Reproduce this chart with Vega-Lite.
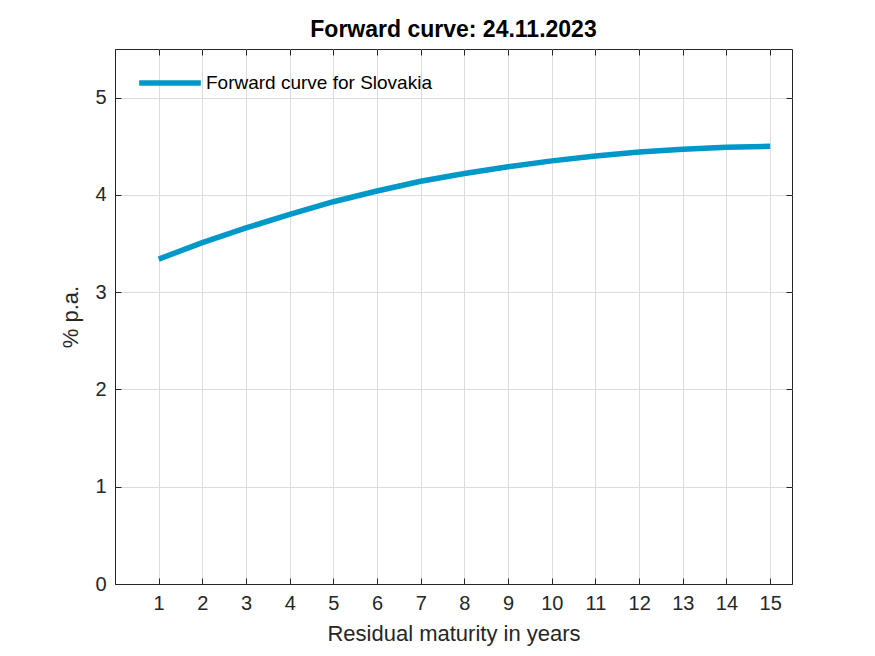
{
  "$schema": "https://vega.github.io/schema/vega-lite/v6.json",
  "width": 677,
  "height": 535,
  "padding": {"left": 115, "top": 49, "right": 83, "bottom": 72},
  "autosize": {"type": "none"},
  "background": "white",
  "config": {
    "font": "Liberation Sans",
    "view": {"stroke": "#262626", "strokeWidth": 1},
    "axis": {
      "labelFont": "Liberation Sans",
      "titleFont": "Liberation Sans",
      "labelFontSize": 20,
      "labelColor": "#262626",
      "titleColor": "#262626",
      "titleFontSize": 22,
      "titleFontWeight": "normal",
      "domainColor": "#262626",
      "tickColor": "#262626",
      "tickSize": -6,
      "gridColor": "#dcdcdc",
      "gridOpacity": 1
    }
  },
  "title": {
    "text": "Forward curve: 24.11.2023",
    "font": "Liberation Sans",
    "fontSize": 23,
    "fontWeight": "bold",
    "color": "#000000",
    "offset": 7
  },
  "data": {
    "values": [
      {"m": 1, "r": 3.34, "s": "Forward curve for Slovakia"},
      {"m": 2, "r": 3.51, "s": "Forward curve for Slovakia"},
      {"m": 3, "r": 3.66, "s": "Forward curve for Slovakia"},
      {"m": 4, "r": 3.80, "s": "Forward curve for Slovakia"},
      {"m": 5, "r": 3.93, "s": "Forward curve for Slovakia"},
      {"m": 6, "r": 4.04, "s": "Forward curve for Slovakia"},
      {"m": 7, "r": 4.14, "s": "Forward curve for Slovakia"},
      {"m": 8, "r": 4.22, "s": "Forward curve for Slovakia"},
      {"m": 9, "r": 4.29, "s": "Forward curve for Slovakia"},
      {"m": 10, "r": 4.35, "s": "Forward curve for Slovakia"},
      {"m": 11, "r": 4.40, "s": "Forward curve for Slovakia"},
      {"m": 12, "r": 4.44, "s": "Forward curve for Slovakia"},
      {"m": 13, "r": 4.47, "s": "Forward curve for Slovakia"},
      {"m": 14, "r": 4.49, "s": "Forward curve for Slovakia"},
      {"m": 15, "r": 4.50, "s": "Forward curve for Slovakia"}
    ]
  },
  "resolve": {"axis": {"x": "independent", "y": "independent"}},
  "layer": [
    {
      "mark": {"type": "line", "strokeWidth": 5.5, "strokeCap": "butt"},
      "encoding": {
        "x": {
          "field": "m", "type": "quantitative",
          "scale": {"domain": [0, 15.5], "nice": false, "zero": false},
          "axis": {"values": [1,2,3,4,5,6,7,8,9,10,11,12,13,14,15], "title": "Residual maturity in years", "labelPadding": 15, "titlePadding": 10}
        },
        "y": {
          "field": "r", "type": "quantitative",
          "scale": {"domain": [0, 5.5], "nice": false},
          "axis": {"values": [0,1,2,3,4,5], "title": "% p.a.", "labelPadding": 15, "titlePadding": 12}
        },
        "color": {
          "field": "s", "type": "nominal",
          "scale": {"range": ["#0098C8"]},
          "legend": {
            "title": null,
            "orient": "none",
            "legendX": 21,
            "legendY": 0,
            "symbolType": "stroke",
            "symbolSize": 3800,
            "symbolStrokeWidth": 5.5,
            "labelFontSize": 19,
            "labelFont": "Liberation Sans",
            "labelColor": "#000000",
            "labelLimit": 0,
            "padding": 0,
            "labelOffset": 2
          }
        }
      }
    },
    {
      "mark": {"type": "line", "opacity": 0},
      "encoding": {
        "x": {
          "field": "m", "type": "quantitative",
          "scale": {"domain": [0, 15.5], "nice": false, "zero": false},
          "axis": {"orient": "top", "values": [1,2,3,4,5,6,7,8,9,10,11,12,13,14,15], "labels": false, "title": null, "grid": false, "domain": false}
        },
        "y": {
          "field": "r", "type": "quantitative",
          "scale": {"domain": [0, 5.5], "nice": false},
          "axis": {"orient": "right", "values": [0,1,2,3,4,5], "labels": false, "title": null, "grid": false, "domain": false}
        }
      }
    }
  ]
}
